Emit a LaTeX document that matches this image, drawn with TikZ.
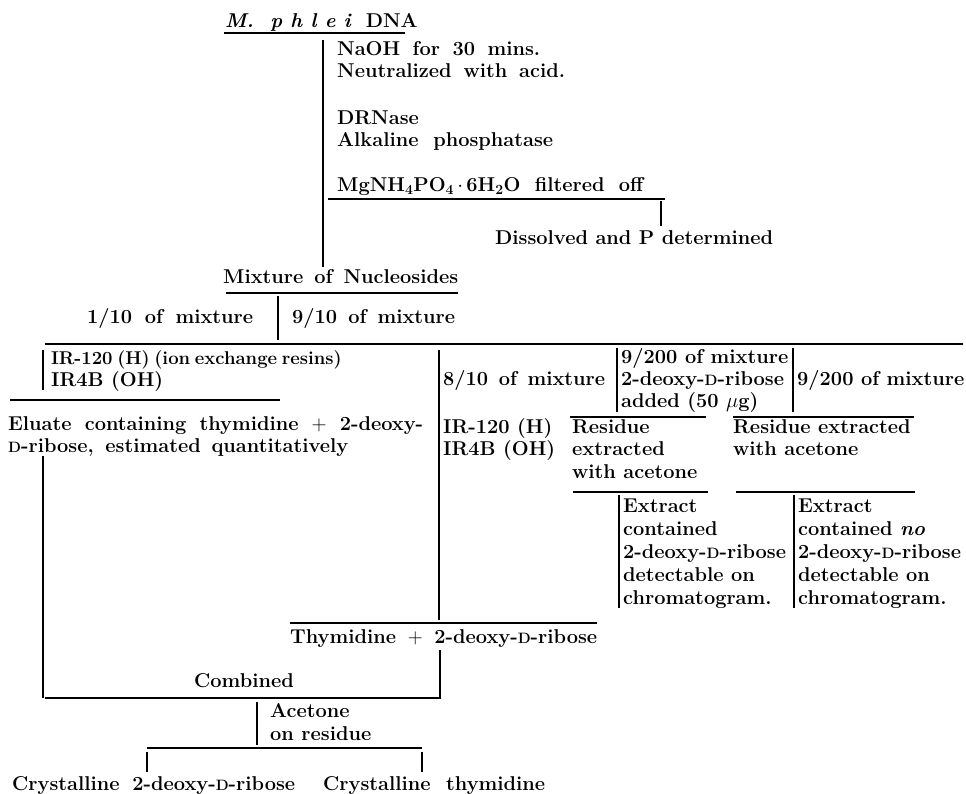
\documentclass[tikz,border=0pt]{standalone}
\newcommand{\scD}{{\fontsize{15}{15}\selectfont D}}
\newcommand{\fitw}[2]{\makebox[#1][s]{#2}}
\newcommand{\txtfont}{\fontsize{20}{22.5}\selectfont\bfseries}
\begin{document}
\begin{tikzpicture}[x=1pt,y=-1pt,
  txt/.style={anchor=base west, inner sep=0pt, font=\txtfont},
  rule/.style={line width=1.1pt}]
\useasboundingbox (0,0) rectangle (966,793);
% texts
\node[txt] (t1) at (225,27) {\textit{M.\ \ p h l e i}\hspace{14pt}DNA};
\node[txt] (t2a) at (337,55) {\fitw{203pt}{NaOH for 30 mins.}};
\node[txt] (t2b) at (337,77) {\fitw{228pt}{Neutralized with acid.}};
\node[txt] (t3a) at (337,124) {DRNase};
\node[txt] (t3b) at (337,146) {\fitw{216pt}{Alkaline phosphatase}};
\node[txt] (t4) at (337,191) {\fitw{306pt}{MgNH\textsubscript{4}PO\textsubscript{4}\,$\cdot$\,6H\textsubscript{2}O filtered off}};
\node[txt] (t5) at (495,244) {Dissolved and P determined};
\node[txt] (t6) at (223,283) {\fitw{235pt}{Mixture of Nucleosides}};
\node[txt] (t7) at (87,323) {\fitw{166pt}{1/10 of mixture}};
\node[txt] (t8) at (292,323) {\fitw{163pt}{9/10 of mixture}};
\node[txt, font=\fontsize{18.5}{22.5}\selectfont\bfseries] (t9a) at (51,364) {\fitw{285pt}{IR-120 (H) (ion exchange resins)}};
\node[txt] (t9b) at (51,386) {IR4B (OH)};
\node[txt] (t10a) at (8,430) {\fitw{415pt}{Eluate containing thymidine $+$ 2-deoxy-}};
\node[txt] (t10b) at (8,452) {\fitw{340pt}{\scD-ribose, estimated quantitatively}};
\node[txt] (t11) at (443,385) {\fitw{162pt}{8/10 of mixture}};
\node[txt] (t12a) at (621,363) {9/200 of mixture};
\node[txt] (t12b) at (621,385) {2-deoxy-\scD-ribose};
\node[txt] (t12c) at (621,407) {added (50 $\mu$g)};
\node[txt] (t13) at (797,385) {9/200 of mixture};
\node[txt] (t14a) at (443,433) {IR-120 (H)};
\node[txt] (t14b) at (443,455) {IR4B (OH)};
\node[txt] (t15a) at (572,433) {Residue};
\node[txt] (t15b) at (572,455) {extracted};
\node[txt] (t15c) at (572,478) {with acetone};
\node[txt] (t16a) at (733,433) {Residue extracted};
\node[txt] (t16b) at (733,455) {with acetone};
\node[txt] (t17a) at (623,512) {Extract};
\node[txt] (t17b) at (623,535) {contained};
\node[txt] (t17c) at (623,558) {2-deoxy-\scD-ribose};
\node[txt] (t17d) at (623,581) {detectable on};
\node[txt] (t17e) at (623,604) {chromatogram.};
\node[txt] (t18a) at (798,512) {Extract};
\node[txt] (t18b) at (798,535) {contained \textit{no}};
\node[txt] (t18c) at (798,558) {2-deoxy-\scD-ribose};
\node[txt] (t18d) at (798,581) {detectable on};
\node[txt] (t18e) at (798,604) {chromatogram.};
\node[txt] (t19) at (290,643) {\fitw{307pt}{Thymidine $+$ 2-deoxy-\scD-ribose}};
\node[txt] (t20) at (194,687) {Combined};
\node[txt] (t21a) at (270,717) {Acetone};
\node[txt] (t21b) at (270,740) {on residue};
\node[txt] (t22) at (12,790) {\fitw{283pt}{Crystalline 2-deoxy-\scD-ribose}};
\node[txt] (t23) at (323,790) {\fitw{222pt}{Crystalline thymidine}};
% rules
\draw[rule] (224,33) -- (405,33);
\draw[rule] (323,40) -- (323,267);
\draw[rule] (328,199) -- (665,199);
\draw[rule] (661,201) -- (661,226);
\draw[rule] (226,293) -- (458,293);
\draw[rule] (278,296) -- (278,340);
\draw[rule] (45,344) -- (963,344);
\draw[rule] (43,350) -- (43,390);
\draw[rule] (10,400) -- (280,400);
\draw[rule] (43,456) -- (43,698);
\draw[rule] (439,350) -- (439,620);
\draw[rule] (617,348) -- (617,412);
\draw[rule] (793,348) -- (793,412);
\draw[rule] (570,417) -- (706,417);
\draw[rule] (733,417) -- (914,417);
\draw[rule] (573,492) -- (708,492);
\draw[rule] (736,492) -- (915,492);
\draw[rule] (619,495) -- (619,608);
\draw[rule] (794,495) -- (794,608);
\draw[rule] (290,623) -- (597,623);
\draw[rule] (440,650) -- (440,697);
\draw[rule] (45,698) -- (441,698);
\draw[rule] (257,702) -- (257,745);
\draw[rule] (147,748) -- (422,748);
\draw[rule] (147,752) -- (147,772);
\draw[rule] (422,752) -- (422,772);
\end{tikzpicture}
\end{document}
